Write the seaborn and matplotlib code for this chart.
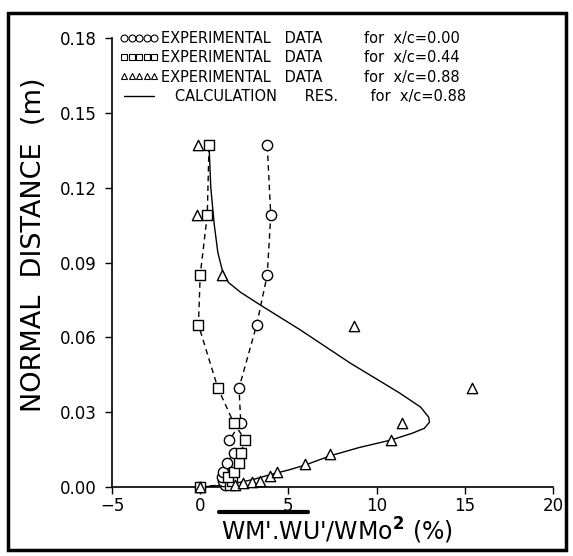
import matplotlib
matplotlib.use("Agg")
import matplotlib.pyplot as plt
import seaborn as sns
import numpy as np
from matplotlib.lines import Line2D
from matplotlib.patches import Rectangle

# ---------------- data ----------------
circ_x = [0.0, 1.4, 1.3, 1.25, 1.3, 1.5, 1.9, 1.65, 2.3, 2.2, 3.2, 3.8, 4.0, 3.8]
circ_y = [0.0, 0.0010, 0.0024, 0.0040, 0.0060, 0.0096, 0.0136, 0.0188, 0.0257, 0.0397, 0.065, 0.085, 0.109, 0.137]

sq_x = [0.0, 1.7, 1.8, 1.6, 1.9, 2.2, 2.3, 2.55, 1.9, 1.0, -0.1, 0.0, 0.4, 0.5]
sq_y = [0.0, 0.0010, 0.0024, 0.0040, 0.0060, 0.0096, 0.0136, 0.0188, 0.0257, 0.0397, 0.065, 0.085, 0.109, 0.137]

tri_x = [0.0, 2.0, 2.45, 2.95, 3.4, 3.97, 4.36, 5.95, 7.37, 10.8, 11.45, 15.4, 8.7, 1.25, -0.2, -0.1]
tri_y = [0.0, 0.0010, 0.0016, 0.0020, 0.0024, 0.0044, 0.0060, 0.0092, 0.0132, 0.0188, 0.0257, 0.0397, 0.0646, 0.085, 0.109, 0.137]

calc_x = [0.0, 1.0, 2.0, 3.0, 4.0, 5.0, 5.95, 7.37, 9.0, 10.8, 12.0, 12.7, 13.0, 12.95, 12.5, 11.3, 8.5, 5.67,
          3.4, 2.3, 1.6, 1.25, 1.0, 0.8, 0.6, 0.5]
calc_y = [0.0, 0.0005, 0.0015, 0.0030, 0.0050, 0.0068, 0.0088, 0.0125, 0.0158, 0.0188, 0.0215, 0.0235, 0.0260,
          0.0280, 0.0320, 0.0377, 0.0497, 0.063, 0.073, 0.078, 0.082, 0.087, 0.094, 0.105, 0.120, 0.137]

x_ticks = [-5, 0, 5, 10, 15, 20]
y_ticks = [0.00, 0.03, 0.06, 0.09, 0.12, 0.15, 0.18]
y_ticklabels = ["0.00", "0.03", "0.06", "0.09", "0.12", "0.15", "0.18"]

labels = ["EXPERIMENTAL   DATA         for  x/c=0.00",
          "EXPERIMENTAL   DATA         for  x/c=0.44",
          "EXPERIMENTAL   DATA         for  x/c=0.88",
          "   CALCULATION      RES.       for  x/c=0.88"]

# ---------------- plot ----------------
sns.set_style("ticks")
plt.rcParams["font.family"] = ["DejaVu Sans"]

fig = plt.figure(figsize=(5.73, 5.56), dpi=100)
ax = fig.add_axes([112 / 573, 1 - 487 / 556, 441 / 573, 449 / 556])

ms = 55
sns.lineplot(x=circ_x, y=circ_y, sort=False, estimator=None, ax=ax, color="black",
             linestyle=(0, (4, 3)), linewidth=1.0)
sns.lineplot(x=sq_x, y=sq_y, sort=False, estimator=None, ax=ax, color="black",
             linestyle=(0, (4, 3)), linewidth=1.0)
sns.lineplot(x=calc_x, y=calc_y, sort=False, estimator=None, ax=ax, color="black", linewidth=1.0)

for xs, ys, mk in [(circ_x, circ_y, "o"), (sq_x, sq_y, "s"), (tri_x, tri_y, "^")]:
    sns.scatterplot(x=xs, y=ys, marker=mk, s=ms, facecolor="white", edgecolor="black",
                    linewidth=1.0, ax=ax, clip_on=False, zorder=3)

ax.set_xlim(-5, 20)
ax.set_ylim(0, 0.18)
ax.set_xticks(x_ticks)
ax.set_xticklabels([("\u2212" + str(abs(v))) if v < 0 else str(v) for v in x_ticks])
ax.set_yticks(y_ticks)
ax.set_yticklabels(y_ticklabels)
ax.tick_params(axis="both", direction="out", length=5, width=1.0, labelsize=12, color="black",
               labelcolor="black")
ax.tick_params(axis="x", pad=2)
ax.tick_params(axis="y", pad=6)
sns.despine(ax=ax)
for sp in ["left", "bottom"]:
    ax.spines[sp].set_linewidth(1.2)
    ax.spines[sp].set_color("black")

ax.set_ylabel("NORMAL  DISTANCE  (m)", fontsize=19.5, color="black")
ax.yaxis.set_label_coords(-0.147, 0.54)

ax.set_xlabel("WM'.WU'/WMo$^{\\mathbf{2}}$ (%)", fontsize=17, color="black", labelpad=6)
ax.xaxis.set_label_coords(0.51, -0.065)
# overline above WM'.WU'
fig.add_artist(Line2D([219 / 573, 308 / 573], [1 - 512 / 556, 1 - 512 / 556],
                      color="black", linewidth=3, transform=fig.transFigure))

handles = [
    Line2D([], [], linestyle="none", marker="o", markersize=5, markerfacecolor="none",
           markeredgecolor="black", markeredgewidth=0.8),
    Line2D([], [], linestyle="none", marker="s", markersize=5, markerfacecolor="none",
           markeredgecolor="black", markeredgewidth=0.8),
    Line2D([], [], linestyle="none", marker="^", markersize=5, markerfacecolor="none",
           markeredgecolor="black", markeredgewidth=0.8),
    Line2D([], [], color="black", linewidth=1.0),
]
leg = ax.legend(handles, labels, loc="upper left", bbox_to_anchor=(0.018, 1.016), numpoints=5,
                frameon=False, fontsize=10.5, handlelength=2.65, handletextpad=0.15,
                labelspacing=0.3, borderpad=0.0, borderaxespad=0.0)
for t in leg.get_texts():
    t.set_color("black")

# outer frame
fig.add_artist(Rectangle((8 / 573, 1 - 550 / 556), 558 / 573, 537 / 556, fill=False,
                         edgecolor="black", linewidth=2.5, transform=fig.transFigure))

fig.savefig("out.png", dpi=100, facecolor="white")
